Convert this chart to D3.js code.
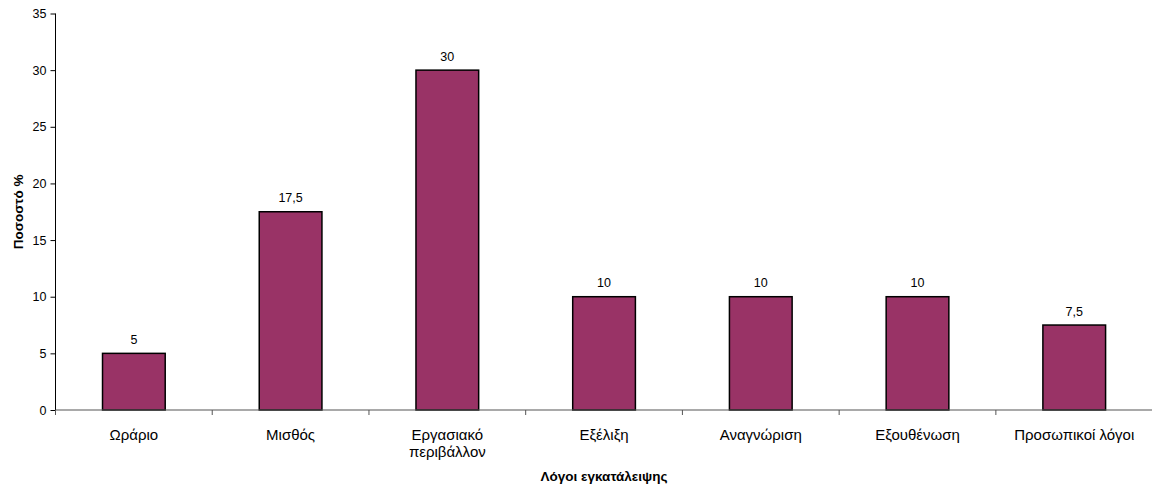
<!DOCTYPE html>
<html>
<head>
<meta charset="utf-8">
<script src="https://cdn.jsdelivr.net/npm/d3@7"></script>
<style>
  html, body { margin: 0; padding: 0; background: #fff; }
  svg { display: block; font-family: "Liberation Sans", Arial, sans-serif; }
</style>
</head>
<body>
<svg id="chart" width="1152" height="490"></svg>
<script>
// Reasons for leaving the job (percent of respondents)
const categories = ["Ωράριο", "Μισθός", "Εργασιακό περιβάλλον", "Εξέλιξη", "Αναγνώριση", "Εξουθένωση", "Προσωπικοί λόγοι"];
const values = [5, 17.5, 30, 10, 10, 10, 7.5];
const valueLabels = ["5", "17,5", "30", "10", "10", "10", "7,5"];
const yTicks = [0, 5, 10, 15, 20, 25, 30, 35];

const svg = d3.select("#chart");
const plotLeft = 55.5, plotRight = 1152.6, plotTop = 13.5, plotBottom = 410;

const x = d3.scaleBand().domain(categories).range([plotLeft, plotRight]).paddingInner(0.6).paddingOuter(0.3);
const y = d3.scaleLinear().domain([0, 35]).range([plotBottom, plotTop]);

// bars
svg.append("g").selectAll("rect").data(values).join("rect")
  .attr("x", (d, i) => x(categories[i]))
  .attr("y", d => y(d))
  .attr("width", x.bandwidth())
  .attr("height", d => y(0) - y(d))
  .attr("fill", "#993366")
  .attr("stroke", "#000")
  .attr("stroke-width", 1.5);

// value labels
svg.append("g").selectAll("text").data(values).join("text")
  .attr("x", (d, i) => x(categories[i]) + x.bandwidth() / 2)
  .attr("y", d => y(d) - 9.5)
  .attr("text-anchor", "middle")
  .attr("font-size", 12.5)
  .attr("fill", "#000")
  .text((d, i) => valueLabels[i]);

// y axis
const yAxis = svg.append("g").attr("transform", `translate(${plotLeft},0)`)
  .call(d3.axisLeft(y).tickValues(yTicks).tickSize(5).tickPadding(4).tickFormat(d3.format("d")));
yAxis.selectAll("text").attr("font-size", 12.5).attr("fill", "#000").attr("font-family", "Liberation Sans, Arial, sans-serif");
yAxis.selectAll("line").attr("stroke", "#000");
yAxis.select(".domain").attr("stroke", "#000").attr("d", `M-0,${plotTop}V${plotBottom}`);

// x axis: ticks sit between categories
const step = x.step();
const bounds = d3.range(categories.length + 1).map(i => plotLeft + i * step);
const xg = svg.append("g");
xg.append("line").attr("x1", plotLeft).attr("x2", plotRight).attr("y1", plotBottom).attr("y2", plotBottom)
  .attr("stroke", "#555").attr("stroke-width", 1.2);
xg.selectAll("line.tick").data(bounds).join("line").attr("class", "tick")
  .attr("x1", d => d).attr("x2", d => d).attr("y1", plotBottom).attr("y2", plotBottom + 5)
  .attr("stroke", "#555");

// category labels (wrapped)
const wrap = {"Εργασιακό περιβάλλον": ["Εργασιακό", "περιβάλλον"]};
xg.selectAll("text.cat").data(categories).join("text").attr("class", "cat")
  .attr("text-anchor", "middle")
  .attr("font-size", 15)
  .attr("fill", "#000")
  .each(function (c) {
    const lines = wrap[c] || [c];
    const t = d3.select(this);
    lines.forEach((l, i) => {
      t.append("tspan").attr("x", x(c) + x.bandwidth() / 2).attr("y", 440 + i * 17).text(l);
    });
  });

// axis titles
svg.append("text").attr("x", (plotLeft + plotRight) / 2).attr("y", 481).attr("text-anchor", "middle")
  .attr("font-size", 13.5).attr("font-weight", "bold").text("Λόγοι εγκατάλειψης");
svg.append("text").attr("transform", `translate(23,${(plotTop + plotBottom) / 2}) rotate(-90)`)
  .attr("text-anchor", "middle").attr("font-size", 13.5).attr("font-weight", "bold").text("Ποσοστό %");
</script>
</body>
</html>
